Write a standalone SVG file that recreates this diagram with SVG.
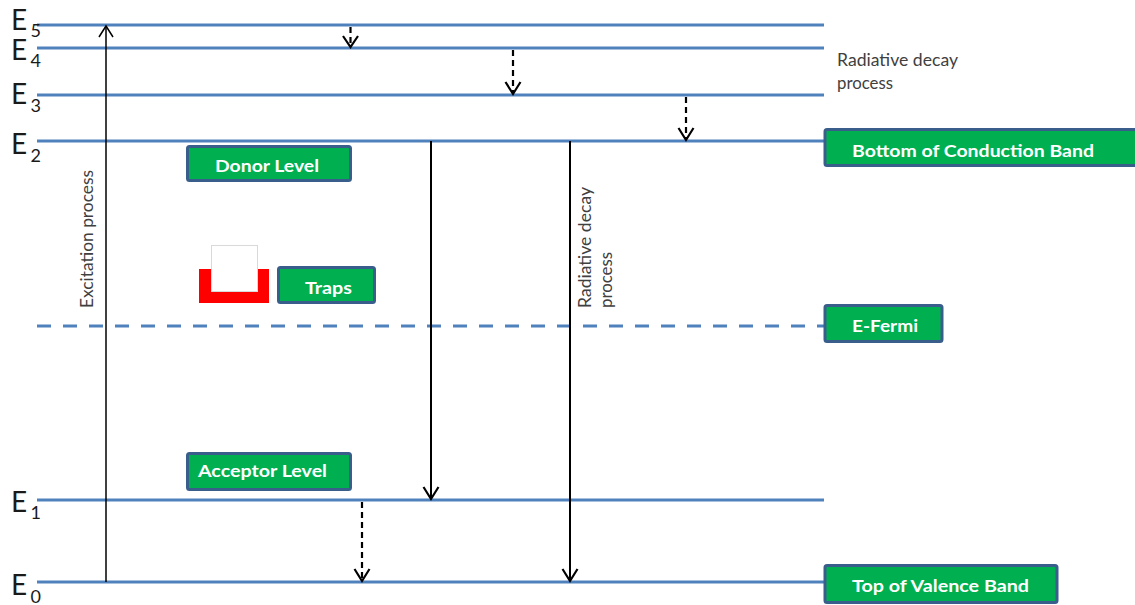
<svg xmlns="http://www.w3.org/2000/svg" width="1135" height="605" viewBox="0 0 1135 605">
<style>
.lvl{stroke:#4F81BD;stroke-width:3;fill:none}
.box{fill:#00B050;stroke:#3A5E8C;stroke-width:3}
.bt{fill:#FFFFFF;font-family:Lato,"Liberation Sans",sans-serif;font-weight:bold;font-size:17px}
.el{fill:#1a1a1a;font-family:Lato,"Liberation Sans",sans-serif;font-size:28px}
.sub{fill:#1a1a1a;font-family:Lato,"Liberation Sans",sans-serif;font-size:18px}
.note{fill:#404040;font-family:Lato,"Liberation Sans",sans-serif;font-size:17px}
.solid{stroke:#000;stroke-width:2;fill:none}
.dash{stroke:#000;stroke-width:2.2;fill:none;stroke-dasharray:6 4}
.head{stroke:#000;stroke-width:2.2;fill:none}
</style>
<rect width="1135" height="605" fill="#FFFFFF"/>
<g id="levels">
<line class="lvl" x1="37" y1="25" x2="824" y2="25"/>
<line class="lvl" x1="37" y1="48" x2="824" y2="48"/>
<line class="lvl" x1="37" y1="95" x2="824" y2="95"/>
<line class="lvl" x1="37" y1="141" x2="824" y2="141"/>
<line class="lvl" x1="37" y1="326" x2="824" y2="326" stroke-dasharray="14 12"/>
<line class="lvl" x1="37" y1="500" x2="824" y2="500"/>
<line class="lvl" x1="37" y1="582" x2="824" y2="582"/>
</g>
<g id="level-labels">
<text class="el" x="11" y="30">E</text><text class="sub" x="30.5" y="37">5</text>
<text class="el" x="11" y="60">E</text><text class="sub" x="30.5" y="67">4</text>
<text class="el" x="11" y="104">E</text><text class="sub" x="30.5" y="112">3</text>
<text class="el" x="11" y="154">E</text><text class="sub" x="30.5" y="162">2</text>
<text class="el" x="11" y="512">E</text><text class="sub" x="30.5" y="519">1</text>
<text class="el" x="11" y="595">E</text><text class="sub" x="30.5" y="603">0</text>
</g>
<g id="connectors">
<line x1="106" y1="582" x2="106" y2="27" stroke="#000" stroke-width="1.5"/>
<path d="M99,37 L106,26 L113,37" stroke="#000" stroke-width="1.5" fill="none"/>
<line class="dash" x1="350.5" y1="27" x2="350.5" y2="46"/>
<path class="head" d="M343,36 L350.5,47 L358,36"/>
<line class="dash" x1="513" y1="50" x2="513" y2="93"/>
<path class="head" d="M505.5,82 L513,94 L520.5,82"/>
<line class="dash" x1="686" y1="97" x2="686" y2="139"/>
<path class="head" d="M678.5,128 L686,140 L693.5,128"/>
<line class="dash" x1="362" y1="502" x2="362" y2="580"/>
<path class="head" d="M354.5,569 L362,581 L369.5,569"/>
<line class="solid" x1="431" y1="141" x2="431" y2="498"/>
<path class="head" d="M423.5,487 L431,499 L438.5,487"/>
<line class="solid" x1="570" y1="141" x2="570" y2="580"/>
<path class="head" d="M562.5,569 L570,581 L577.5,569"/>
</g>
<g id="process-labels">
<text class="note" transform="translate(93,308) rotate(-90)" textLength="138" lengthAdjust="spacingAndGlyphs">Excitation process</text>
<text class="note" transform="translate(591,308) rotate(-90)" textLength="121" lengthAdjust="spacingAndGlyphs">Radiative decay</text>
<text class="note" transform="translate(612,308) rotate(-90)" textLength="56" lengthAdjust="spacingAndGlyphs">process</text>
<text class="note" x="837" y="66" textLength="121" lengthAdjust="spacingAndGlyphs">Radiative decay</text>
<text class="note" x="837" y="89" textLength="56" lengthAdjust="spacingAndGlyphs">process</text>
</g>
<g id="traps-icon">
<rect x="199" y="269" width="70" height="34" fill="#FF0000"/>
<rect x="211.5" y="245.5" width="46" height="46" fill="#FFFFFF" stroke="#D9D9D9" stroke-width="1"/>
</g>
<g id="donor">
<rect class="box" x="187.5" y="146.5" width="163" height="34" rx="2"/>
<text class="bt" x="215" y="172" textLength="104" lengthAdjust="spacingAndGlyphs">Donor Level</text>
</g>
<g id="traps">
<rect class="box" x="278.5" y="267.5" width="96" height="35" rx="2"/>
<text class="bt" x="305" y="294" textLength="47" lengthAdjust="spacingAndGlyphs">Traps</text>
</g>
<g id="acceptor">
<rect class="box" x="187.5" y="453.5" width="163" height="36" rx="2"/>
<text class="bt" x="198" y="477" textLength="129" lengthAdjust="spacingAndGlyphs">Acceptor Level</text>
</g>
<g id="conduction">
<rect class="box" x="825" y="129.5" width="320" height="36" rx="2"/>
<text class="bt" x="852" y="157" textLength="242" lengthAdjust="spacingAndGlyphs">Bottom of Conduction Band</text>
</g>
<g id="fermi">
<rect class="box" x="825" y="305.5" width="117" height="36" rx="2"/>
<text class="bt" x="852" y="332" textLength="66" lengthAdjust="spacingAndGlyphs">E-Fermi</text>
</g>
<g id="valence">
<rect class="box" x="825" y="565.5" width="232" height="37" rx="2"/>
<text class="bt" x="852" y="592" textLength="177" lengthAdjust="spacingAndGlyphs">Top of Valence Band</text>
</g>
</svg>
